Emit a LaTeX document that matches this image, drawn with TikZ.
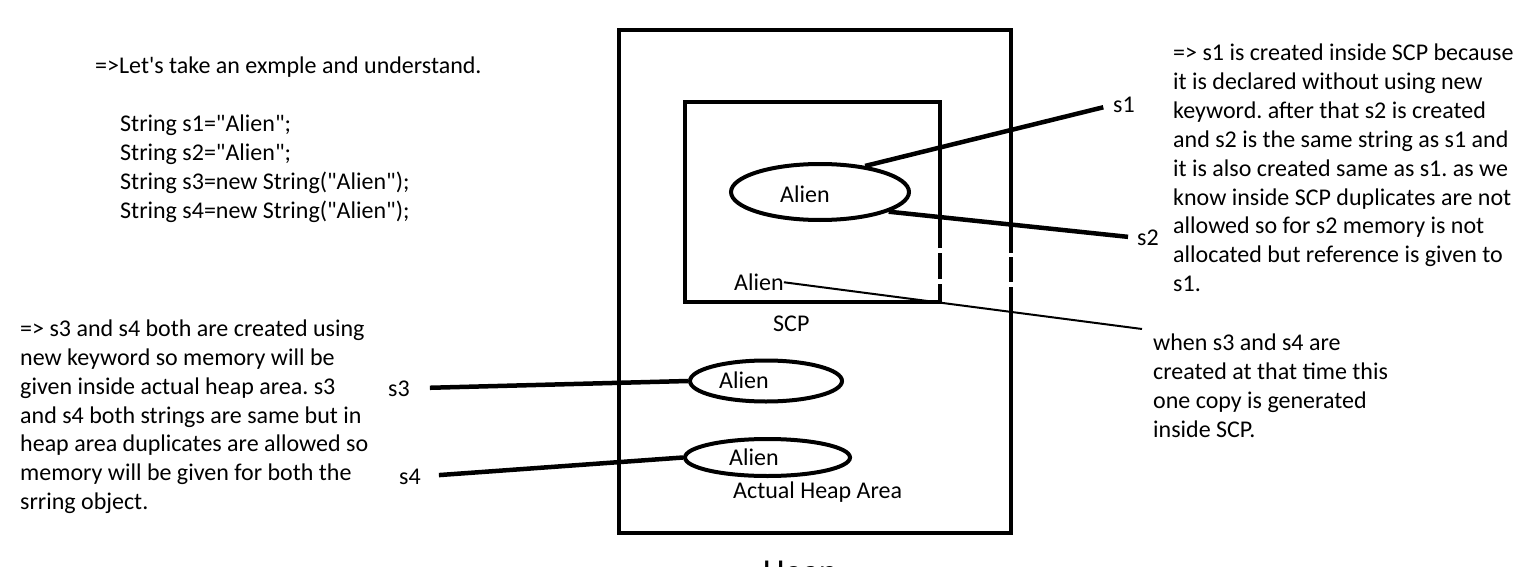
\documentclass[tikz,border=0pt]{standalone}
\usepackage{fontspec}
\setmainfont{Carlito}[Ligatures=TeXOff]
\usetikzlibrary{shapes.geometric}
\begin{document}
\frenchspacing
\begin{tikzpicture}[x=1pt,y=-1pt,
  txt/.style={font=\fontsize{24}{28.9}\selectfont\frenchspacing, inner sep=0pt, align=left, anchor=north west},
  lbl/.style={font=\fontsize{24}{28}\selectfont, inner sep=0pt, anchor=base west},
  ell/.style={ellipse, draw, line width=4pt, inner sep=0pt},
  box/.style={line width=4.5pt},
  ref/.style={line width=4.5pt},
  thinref/.style={line width=2pt}]
\useasboundingbox (0,0) rectangle (1517,567);
\fill[white] (0,0) rectangle (1517,567);
% Heap box (right edge broken)
\draw[box] (1011,253) -- (1011,30) -- (619,30) -- (619,533) -- (1011,533) -- (1011,287);
\draw[box] (1011,257) -- (1011,282);
% SCP box (right edge broken)
\draw[box] (940,248) -- (940,102) -- (685,102) -- (685,302) -- (940,302) -- (940,284);
\draw[box] (940,253) -- (940,279);
% objects
\node[ell, minimum width=178pt, minimum height=56pt] (e1) at (820,192) {};
\node[lbl] (a1) at (780,202) {Alien};
\node[lbl] (a2) at (734,290.5) {Alien};
\node[lbl] (scp) at (773,331) {SCP};
\node[ell, minimum width=152pt, minimum height=41pt] (e3) at (766,381) {};
\node[lbl] (a3) at (719,388) {Alien};
\node[ell, minimum width=165pt, minimum height=37pt] (e4) at (767.5,457.5) {};
\node[lbl] (a4) at (729,465.5) {Alien};
\node[lbl] (aha) at (733,498) {Actual Heap Area};
\node[font=\fontsize{35}{40}\selectfont, inner sep=0pt, anchor=base] (heap) at (800,583) {Heap};
% reference labels
\node[lbl] (s1) at (1113,112.5) {s1};
\node[lbl] (s2) at (1137,245.5) {s2};
\node[lbl] (s3) at (388,396) {s3};
\node[lbl] (s4) at (399,484) {s4};
% texts
\node[txt] (intro) at (95,57) {=>Let's take an exmple and understand.};
\node[txt] (code) at (120,115) {String s1="Alien";\\String s2="Alien";\\String s3=new String("Alien");\\String s4=new String("Alien");};
\node[txt] (note1) at (1173,43.7) {=> s1 is created inside SCP because\\it is declared without using new\\keyword. after that s2 is created\\and s2 is the same string as s1 and\\it is also created same as s1. as we\\know inside SCP duplicates are not\\allowed so for s2 memory is not\\allocated but reference is given to\\s1.};
\node[txt] (note3) at (20,319.5) {=> s3 and s4 both are created using\\new keyword so memory will be\\given inside actual heap area. s3\\and s4 both strings are same but in\\heap area duplicates are allowed so\\memory will be given for both the\\srring object.};
\node[txt] (note2) at (1153,334) {when s3 and s4 are\\created at that time this\\one copy is generated\\inside SCP.};
\coordinate (n2tip) at (1142,329);
% connectors
\draw[ref, shorten >=10pt] (e1.30) -- (s1.west);
\draw[ref, shorten >=9pt] (e1.-16) -- (s2.west);
\draw[ref, shorten <=20pt] (s3.east) -- (e3.west);
\draw[ref, shorten <=18pt] (s4.east) -- (e4.west);
\draw[thinref] (a2.east) -- (n2tip);
\end{tikzpicture}
\end{document}
